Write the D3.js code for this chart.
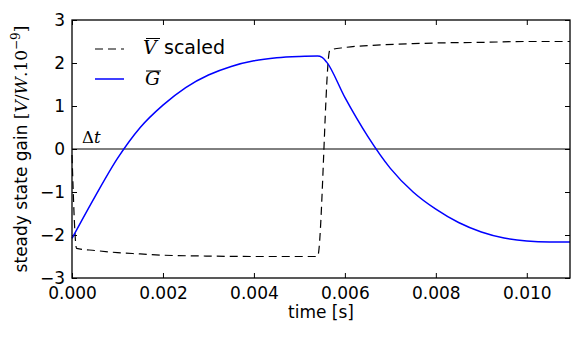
<!DOCTYPE html>
<html>
<head>
<meta charset="utf-8">
<script src="https://cdn.jsdelivr.net/npm/d3@7"></script>
<style>
  body { margin: 0; background: #fff; }
  text { font-family: "DejaVu Sans", sans-serif; fill: #000; }
  .math { font-family: "DejaVu Serif", "Liberation Serif", serif; }
</style>
</head>
<body>
<svg id="chart" width="581" height="339"></svg>
<script>
// Datos
const gTime = [0, 0.0005, 0.001, 0.0015, 0.002, 0.0025, 0.003, 0.0035, 0.004, 0.0045, 0.005, 0.0054, 0.0055, 0.0056, 0.006, 0.0065, 0.007, 0.0075, 0.008, 0.0085, 0.009, 0.0095, 0.010, 0.0105, 0.01095];
const gValue = [-2.08, -1.12, -0.22, 0.50, 1.02, 1.43, 1.72, 1.92, 2.05, 2.12, 2.15, 2.16, 2.13, 2.02, 1.20, 0.30, -0.45, -1.00, -1.40, -1.71, -1.93, -2.07, -2.14, -2.16, -2.16];

const vTime = [0, 0.0001, 0.0005, 0.001, 0.0015, 0.002, 0.003, 0.004, 0.0054, 0.00567, 0.006, 0.0068, 0.0075, 0.0082, 0.009, 0.010, 0.01095];
const vValue = [-0.14, -2.31, -2.36, -2.41, -2.44, -2.47, -2.49, -2.5, -2.5, 2.3, 2.36, 2.42, 2.45, 2.47, 2.48, 2.5, 2.5];

const xTicks = [0, 0.002, 0.004, 0.006, 0.008, 0.010];
const yTicks = [-3, -2, -1, 0, 1, 2, 3];

const margin = { top: 20, right: 11, bottom: 61, left: 72 };
const width = 581, height = 339;

const svg = d3.select("#chart");

const x = d3.scaleLinear().domain([0, 0.01095]).range([margin.left, width - margin.right]);
const y = d3.scaleLinear().domain([-3, 3]).range([height - margin.bottom, margin.top]);

// Ejes (ticks hacia dentro, estilo matplotlib clasico)
const gx = svg.append("g").attr("transform", `translate(0,${y(-3)})`)
  .call(d3.axisBottom(x).tickValues(xTicks).tickFormat(d3.format(".3f")).tickSizeInner(-5).tickSizeOuter(0).tickPadding(9));
const gxTop = svg.append("g").attr("transform", `translate(0,${y(3)})`)
  .call(d3.axisTop(x).tickValues(xTicks).tickFormat("").tickSizeInner(-5).tickSizeOuter(0));
const gy = svg.append("g").attr("transform", `translate(${x(0)},0)`)
  .call(d3.axisLeft(y).tickValues(yTicks).tickFormat(d3.format("d")).tickSizeInner(-5).tickSizeOuter(0).tickPadding(7));
const gyRight = svg.append("g").attr("transform", `translate(${x.range()[1]},0)`)
  .call(d3.axisRight(y).tickValues(yTicks).tickFormat("").tickSizeInner(-5).tickSizeOuter(0));

[gx, gxTop, gy, gyRight].forEach((g) => {
  g.select(".domain").remove();
  g.selectAll("line").attr("stroke", "#000").attr("stroke-width", 1);
  g.selectAll("text").style("font-size", "17px").style("font-family", '"DejaVu Sans", sans-serif');
});

// Linea de cero
svg.append("line")
  .attr("x1", x.range()[0]).attr("x2", x.range()[1])
  .attr("y1", y(0)).attr("y2", y(0))
  .attr("stroke", "#000").attr("stroke-width", 1);

// Series
const lineV = d3.line().x((d, i) => x(vTime[i])).y((d) => y(d)).curve(d3.curveMonotoneX);
const lineG = d3.line().x((d, i) => x(gTime[i])).y((d) => y(d)).curve(d3.curveMonotoneX);

svg.append("path")
  .attr("d", lineV(vValue))
  .attr("fill", "none").attr("stroke", "#000").attr("stroke-width", 1.2)
  .attr("stroke-dasharray", "8,5");

svg.append("path")
  .attr("d", lineG(gValue))
  .attr("fill", "none").attr("stroke", "#0000ff").attr("stroke-width", 1.5);

// Marco
svg.append("rect")
  .attr("x", x.range()[0]).attr("y", y(3))
  .attr("width", x.range()[1] - x.range()[0]).attr("height", y(-3) - y(3))
  .attr("fill", "none").attr("stroke", "#000").attr("stroke-width", 1.3);

// Etiquetas de ejes
svg.append("text")
  .attr("x", (x.range()[0] + x.range()[1]) / 2).attr("y", 318)
  .attr("text-anchor", "middle").style("font-size", "17px")
  .text("time [s]");

const yl = svg.append("text")
  .attr("transform", `translate(27,${(y(3) + y(-3)) / 2}) rotate(-90)`)
  .attr("text-anchor", "middle").style("font-size", "17px");
yl.append("tspan").text("steady state gain ");
yl.append("tspan").attr("class", "math").text("[");
yl.append("tspan").attr("class", "math").style("font-style", "italic").text("V");
yl.append("tspan").attr("class", "math").text("/");
yl.append("tspan").attr("class", "math").style("font-style", "italic").text("W");
yl.append("tspan").attr("class", "math").text(".10");
yl.append("tspan").attr("class", "math").attr("dy", -7).style("font-size", "12px").text("\u22129");
yl.append("tspan").attr("class", "math").attr("dy", 7).text("]");

// Anotacion Delta t
const dt = svg.append("text").attr("class", "math").attr("x", 82).attr("y", 143).style("font-size", "16.5px");
dt.append("tspan").text("\u0394");
dt.append("tspan").style("font-style", "italic").text("t");

// Leyenda
const legend = svg.append("g");
legend.append("line").attr("x1", 95).attr("x2", 124).attr("y1", 49).attr("y2", 49)
  .attr("stroke", "#000").attr("stroke-width", 1.2).attr("stroke-dasharray", "8,5");
legend.append("line").attr("x1", 95).attr("x2", 124).attr("y1", 79).attr("y2", 79)
  .attr("stroke", "#0000ff").attr("stroke-width", 1.5);

const vt = legend.append("text").attr("x", 143).attr("y", 54).style("font-size", "19px");
vt.append("tspan").attr("class", "math").style("font-style", "italic").text("V");
vt.append("tspan").attr("x", 164).text("scaled");
legend.append("line").attr("x1", 146).attr("x2", 160).attr("y1", 38.5).attr("y2", 38.5)
  .attr("stroke", "#000").attr("stroke-width", 1);

legend.append("text").attr("class", "math").attr("x", 145).attr("y", 85)
  .style("font-size", "19px").style("font-style", "italic").text("G");
legend.append("line").attr("x1", 146).attr("x2", 161).attr("y1", 71).attr("y2", 71)
  .attr("stroke", "#000").attr("stroke-width", 1);
</script>
</body>
</html>
